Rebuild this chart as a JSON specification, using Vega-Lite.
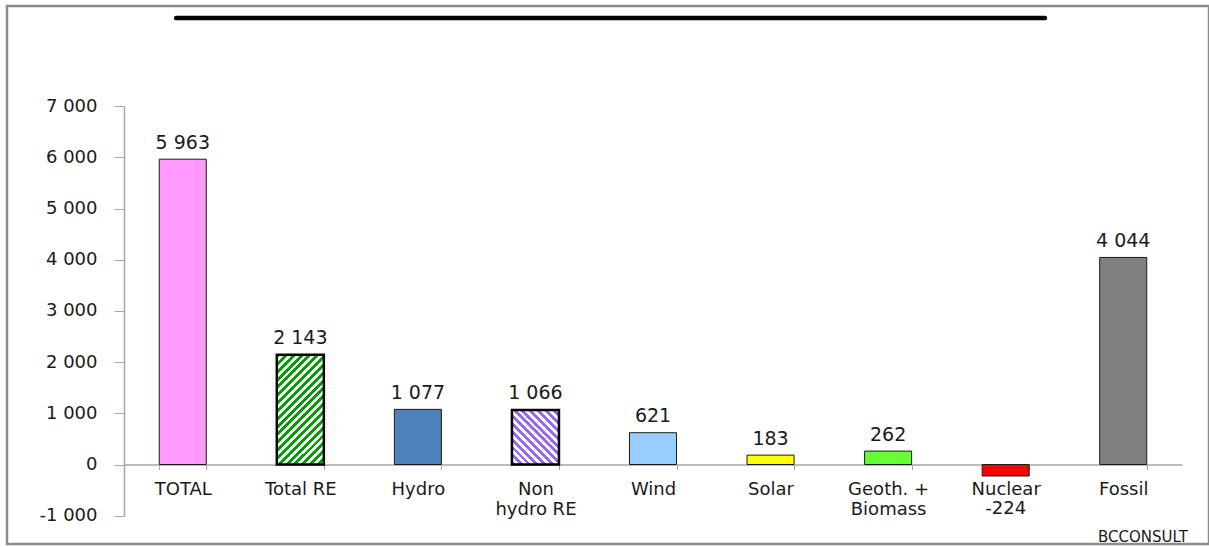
{
  "$schema": "https://vega.github.io/schema/vega-lite/v6.json",
  "width": 1202,
  "height": 538,
  "autosize": {"type": "none"},
  "padding": {"left": 7, "top": 6, "right": 0, "bottom": 3},
  "background": "white",
  "config": {
    "font": "DejaVu Sans",
    "view": {"stroke": "#8c8c8c", "strokeWidth": 2.5},
    "locale": {
      "number": {"decimal": ",", "thousands": " ", "grouping": [3], "currency": ["", ""], "minus": "-"}
    }
  },
  "title": {
    "text": "BCCONSULT",
    "orient": "bottom",
    "anchor": "end",
    "frame": "group",
    "offset": -14,
    "dx": -21,
    "fontSize": 15,
    "fontWeight": "normal",
    "color": "#1a1a1a"
  },
  "data": {
    "values": [
      {"category": "TOTAL", "value": 5963},
      {"category": "Total RE", "value": 2143},
      {"category": "Hydro", "value": 1077},
      {"category": "Non hydro RE", "value": 1066},
      {"category": "Wind", "value": 621},
      {"category": "Solar", "value": 183},
      {"category": "Geoth. + Biomass", "value": 262},
      {"category": "Nuclear", "value": -224},
      {"category": "Fossil", "value": 4044}
    ]
  },
  "layer": [
    {
      "encoding": {
        "x": {
          "field": "category",
          "type": "nominal",
          "sort": null,
          "scale": {
            "domain": ["TOTAL", "Total RE", "Hydro", "Non hydro RE", "Wind", "Solar", "Geoth. + Biomass", "Nuclear", "Fossil"],
            "range": [117, 1175],
            "paddingInner": 0.6,
            "paddingOuter": 0.3
          },
          "axis": {
            "title": null,
            "orient": "bottom",
            "offset": -79.5,
            "labelAngle": 0,
            "labelFont": "DejaVu Sans",
            "labelFontSize": 18,
            "labelColor": "#1a1a1a",
            "labelPadding": 11,
            "labelBaseline": "top",
            "labelLineHeight": 20,
            "labelExpr": "datum.label == 'Non hydro RE' ? ['Non', 'hydro RE'] : datum.label == 'Geoth. + Biomass' ? ['Geoth. +', 'Biomass'] : datum.label",
            "tickBand": "extent",
            "tickSize": 5,
            "tickColor": "#a6a6a6",
            "domainColor": "#a6a6a6",
            "domainWidth": 1.5,
            "grid": false
          }
        },
        "y": {
          "field": "value",
          "type": "quantitative",
          "stack": null,
          "scale": {"domain": [-1000, 7000], "range": [509.7, 100.1], "nice": false},
          "axis": {
            "title": null,
            "orient": "left",
            "offset": -117,
            "values": [-1000, 0, 1000, 2000, 3000, 4000, 5000, 6000, 7000],
            "format": ",d",
            "labelFont": "DejaVu Sans",
            "labelFontSize": 18,
            "labelColor": "#1a1a1a",
            "labelPadding": 17,
            "tickSize": 10,
            "tickColor": "#a6a6a6",
            "domainColor": "#a6a6a6",
            "domainWidth": 1.5,
            "grid": false
          }
        }
      },
      "layer": [
        {
          "mark": {"type": "bar", "stroke": "#1a1a1a", "strokeWidth": 1},
          "encoding": {
            "color": {
              "field": "category",
              "type": "nominal",
              "legend": null,
              "scale": {
                "domain": ["TOTAL", "Total RE", "Hydro", "Non hydro RE", "Wind", "Solar", "Geoth. + Biomass", "Nuclear", "Fossil"],
                "range": ["#ff99ff", "#ffffff", "#4f81bd", "#ffffff", "#99ccff", "#ffff00", "#66ff33", "#ff0000", "#808080"]
              }
            }
          }
        },
        {
          "transform": [{"filter": "datum.category == 'Total RE'"}],
          "mark": {
            "type": "bar",
            "stroke": "#000000",
            "strokeWidth": 2.5,
            "fill": {
              "gradient": "linear",
              "x1": 0, "y1": 0, "x2": 0.517, "y2": 1.207,
              "stops": [
                {"offset": 0, "color": "#00a000"}, {"offset": 0.025, "color": "#00a000"}, {"offset": 0.025, "color": "#ffffff"}, {"offset": 0.05, "color": "#ffffff"},
                {"offset": 0.05, "color": "#00a000"}, {"offset": 0.075, "color": "#00a000"}, {"offset": 0.075, "color": "#ffffff"}, {"offset": 0.1, "color": "#ffffff"},
                {"offset": 0.1, "color": "#00a000"}, {"offset": 0.125, "color": "#00a000"}, {"offset": 0.125, "color": "#ffffff"}, {"offset": 0.15, "color": "#ffffff"},
                {"offset": 0.15, "color": "#00a000"}, {"offset": 0.175, "color": "#00a000"}, {"offset": 0.175, "color": "#ffffff"}, {"offset": 0.2, "color": "#ffffff"},
                {"offset": 0.2, "color": "#00a000"}, {"offset": 0.225, "color": "#00a000"}, {"offset": 0.225, "color": "#ffffff"}, {"offset": 0.25, "color": "#ffffff"},
                {"offset": 0.25, "color": "#00a000"}, {"offset": 0.275, "color": "#00a000"}, {"offset": 0.275, "color": "#ffffff"}, {"offset": 0.3, "color": "#ffffff"},
                {"offset": 0.3, "color": "#00a000"}, {"offset": 0.325, "color": "#00a000"}, {"offset": 0.325, "color": "#ffffff"}, {"offset": 0.35, "color": "#ffffff"},
                {"offset": 0.35, "color": "#00a000"}, {"offset": 0.375, "color": "#00a000"}, {"offset": 0.375, "color": "#ffffff"}, {"offset": 0.4, "color": "#ffffff"},
                {"offset": 0.4, "color": "#00a000"}, {"offset": 0.425, "color": "#00a000"}, {"offset": 0.425, "color": "#ffffff"}, {"offset": 0.45, "color": "#ffffff"},
                {"offset": 0.45, "color": "#00a000"}, {"offset": 0.475, "color": "#00a000"}, {"offset": 0.475, "color": "#ffffff"}, {"offset": 0.5, "color": "#ffffff"},
                {"offset": 0.5, "color": "#00a000"}, {"offset": 0.525, "color": "#00a000"}, {"offset": 0.525, "color": "#ffffff"}, {"offset": 0.55, "color": "#ffffff"},
                {"offset": 0.55, "color": "#00a000"}, {"offset": 0.575, "color": "#00a000"}, {"offset": 0.575, "color": "#ffffff"}, {"offset": 0.6, "color": "#ffffff"},
                {"offset": 0.6, "color": "#00a000"}, {"offset": 0.625, "color": "#00a000"}, {"offset": 0.625, "color": "#ffffff"}, {"offset": 0.65, "color": "#ffffff"},
                {"offset": 0.65, "color": "#00a000"}, {"offset": 0.675, "color": "#00a000"}, {"offset": 0.675, "color": "#ffffff"}, {"offset": 0.7, "color": "#ffffff"},
                {"offset": 0.7, "color": "#00a000"}, {"offset": 0.725, "color": "#00a000"}, {"offset": 0.725, "color": "#ffffff"}, {"offset": 0.75, "color": "#ffffff"},
                {"offset": 0.75, "color": "#00a000"}, {"offset": 0.775, "color": "#00a000"}, {"offset": 0.775, "color": "#ffffff"}, {"offset": 0.8, "color": "#ffffff"},
                {"offset": 0.8, "color": "#00a000"}, {"offset": 0.825, "color": "#00a000"}, {"offset": 0.825, "color": "#ffffff"}, {"offset": 0.85, "color": "#ffffff"},
                {"offset": 0.85, "color": "#00a000"}, {"offset": 0.875, "color": "#00a000"}, {"offset": 0.875, "color": "#ffffff"}, {"offset": 0.9, "color": "#ffffff"},
                {"offset": 0.9, "color": "#00a000"}, {"offset": 0.925, "color": "#00a000"}, {"offset": 0.925, "color": "#ffffff"}, {"offset": 0.95, "color": "#ffffff"},
                {"offset": 0.95, "color": "#00a000"}, {"offset": 0.975, "color": "#00a000"}, {"offset": 0.975, "color": "#ffffff"}, {"offset": 1, "color": "#ffffff"}
              ]
            }
          }
        },
        {
          "transform": [{"filter": "datum.category == 'Non hydro RE'"}],
          "mark": {
            "type": "bar",
            "stroke": "#000000",
            "strokeWidth": 2.5,
            "fill": {
              "gradient": "linear",
              "x1": 0, "y1": 1, "x2": 0.92, "y2": -0.069,
              "stops": [
                {"offset": 0, "color": "#9966ff"}, {"offset": 0.0385, "color": "#9966ff"}, {"offset": 0.0385, "color": "#ffffff"}, {"offset": 0.0769, "color": "#ffffff"},
                {"offset": 0.0769, "color": "#9966ff"}, {"offset": 0.1154, "color": "#9966ff"}, {"offset": 0.1154, "color": "#ffffff"}, {"offset": 0.1538, "color": "#ffffff"},
                {"offset": 0.1538, "color": "#9966ff"}, {"offset": 0.1923, "color": "#9966ff"}, {"offset": 0.1923, "color": "#ffffff"}, {"offset": 0.2308, "color": "#ffffff"},
                {"offset": 0.2308, "color": "#9966ff"}, {"offset": 0.2692, "color": "#9966ff"}, {"offset": 0.2692, "color": "#ffffff"}, {"offset": 0.3077, "color": "#ffffff"},
                {"offset": 0.3077, "color": "#9966ff"}, {"offset": 0.3462, "color": "#9966ff"}, {"offset": 0.3462, "color": "#ffffff"}, {"offset": 0.3846, "color": "#ffffff"},
                {"offset": 0.3846, "color": "#9966ff"}, {"offset": 0.4231, "color": "#9966ff"}, {"offset": 0.4231, "color": "#ffffff"}, {"offset": 0.4615, "color": "#ffffff"},
                {"offset": 0.4615, "color": "#9966ff"}, {"offset": 0.5, "color": "#9966ff"}, {"offset": 0.5, "color": "#ffffff"}, {"offset": 0.5385, "color": "#ffffff"},
                {"offset": 0.5385, "color": "#9966ff"}, {"offset": 0.5769, "color": "#9966ff"}, {"offset": 0.5769, "color": "#ffffff"}, {"offset": 0.6154, "color": "#ffffff"},
                {"offset": 0.6154, "color": "#9966ff"}, {"offset": 0.6538, "color": "#9966ff"}, {"offset": 0.6538, "color": "#ffffff"}, {"offset": 0.6923, "color": "#ffffff"},
                {"offset": 0.6923, "color": "#9966ff"}, {"offset": 0.7308, "color": "#9966ff"}, {"offset": 0.7308, "color": "#ffffff"}, {"offset": 0.7692, "color": "#ffffff"},
                {"offset": 0.7692, "color": "#9966ff"}, {"offset": 0.8077, "color": "#9966ff"}, {"offset": 0.8077, "color": "#ffffff"}, {"offset": 0.8462, "color": "#ffffff"},
                {"offset": 0.8462, "color": "#9966ff"}, {"offset": 0.8846, "color": "#9966ff"}, {"offset": 0.8846, "color": "#ffffff"}, {"offset": 0.9231, "color": "#ffffff"},
                {"offset": 0.9231, "color": "#9966ff"}, {"offset": 0.9615, "color": "#9966ff"}, {"offset": 0.9615, "color": "#ffffff"}, {"offset": 1, "color": "#ffffff"}
              ]
            }
          }
        },
        {
          "transform": [{"filter": "datum.value >= 0"}],
          "mark": {"type": "text", "baseline": "alphabetic", "dy": -10.5, "fontSize": 19, "font": "DejaVu Sans", "color": "#1a1a1a"},
          "encoding": {"text": {"field": "value", "type": "quantitative", "format": ",d"}}
        },
        {
          "transform": [{"filter": "datum.value < 0"}],
          "mark": {"type": "text", "baseline": "alphabetic", "dy": 38, "fontSize": 18, "font": "DejaVu Sans", "color": "#1a1a1a"},
          "encoding": {"text": {"field": "value", "type": "quantitative", "format": ",d"}}
        }
      ]
    },
    {
      "data": {"values": [{}]},
      "mark": {"type": "rule", "color": "#000000", "strokeWidth": 4.5, "strokeCap": "round"},
      "encoding": {
        "x": {"datum": 0.1407, "type": "quantitative", "scale": {"domain": [0, 1]}, "axis": null},
        "x2": {"datum": 0.8635},
        "y": {"datum": 8720, "type": "quantitative"}
      }
    }
  ],
  "resolve": {"scale": {"x": "independent"}}
}
